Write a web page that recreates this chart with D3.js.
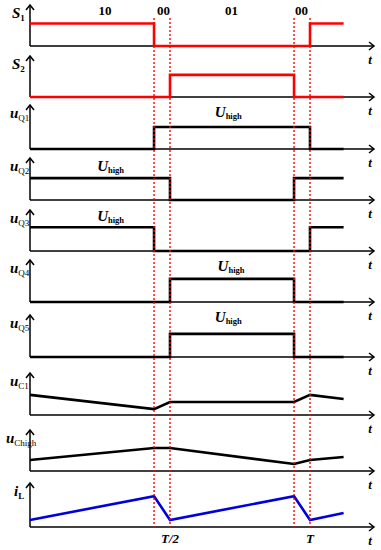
<!DOCTYPE html>
<html>
<head>
<meta charset="utf-8">
<script src="https://cdn.jsdelivr.net/npm/d3@7"></script>
<style>
  body { margin: 0; background: #fff; }
  svg { display: block; }
</style>
</head>
<body>
<svg id="svg" width="381" height="550"></svg>
<script>
// time points (fraction of period T)
const times = [0, 0.443, 0.5, 0.943, 1.0, 1.12];
// switching states above the plot
const stateLabels = ["10", "00", "01", "00"];
const stateTimes = [0.268, 0.477, 0.72, 0.97];

// digital waveforms, value at each time holds until the next (1 = high)
const s1 = [1, 0, 0, 0, 1, 1];
const s2 = [0, 0, 1, 0, 0, 0];
const uQ1 = [0, 1, 1, 1, 0, 0];
const uQ2 = [1, 1, 0, 1, 1, 1];
const uQ3 = [1, 0, 0, 0, 1, 1];
const uQ4 = [0, 0, 1, 0, 0, 0];
const uQ5 = [0, 0, 1, 0, 0, 0];

// analog waveforms (fraction of panel height), linear between time points
const uC1 = [0.48, 0.14, 0.31, 0.31, 0.48, 0.38];
const uChigh = [0.27, 0.56, 0.56, 0.17, 0.27, 0.34];
const iL = [0.16, 0.70, 0.16, 0.70, 0.16, 0.32];

const svg = d3.select("#svg");
const x = d3.scaleLinear().domain([0, 1]).range([30, 310]);
const xEnd = 374;
const serif = "'Liberation Serif', 'DejaVu Serif', serif";

// panel layout: baseline, arrow tip, high level for digital ones, label start
const panels = [
    { name: "S", sub: "1", bold: true, data: s1, kind: "step", color: "#ff0000", base: 46, top: 5, high: 0.55, lx: 12 },
    { name: "S", sub: "2", bold: true, data: s2, kind: "step", color: "#ff0000", base: 97, top: 56, high: 0.54, lx: 12 },
    { name: "u", sub: "Q1", data: uQ1, kind: "step", color: "#000", base: 149, top: 105, high: 0.5, uh: [0.66, 117], lx: 10 },
    { name: "u", sub: "Q2", data: uQ2, kind: "step", color: "#000", base: 200, top: 158, high: 0.52, uh: [0.24, 171], lx: 10 },
    { name: "u", sub: "Q3", data: uQ3, kind: "step", color: "#000", base: 251, top: 210, high: 0.58, uh: [0.24, 221], lx: 10 },
    { name: "u", sub: "Q4", data: uQ4, kind: "step", color: "#000", base: 302, top: 260, high: 0.55, uh: [0.67, 271], lx: 10 },
    { name: "u", sub: "Q5", data: uQ5, kind: "step", color: "#000", base: 357, top: 315, high: 0.55, uh: [0.66, 322], lx: 10 },
    { name: "u", sub: "C1", data: uC1, kind: "lin", color: "#000", base: 415, top: 373, lx: 10 },
    { name: "u", sub: "Chigh", data: uChigh, kind: "lin", color: "#000", base: 471, top: 430, lx: 6 },
    { name: "i", sub: "L", bold: true, data: iL, kind: "lin", color: "#0000dd", base: 527, top: 483, lx: 14 }
];

panels.forEach(p => {
    const y = d3.scaleLinear().domain([0, 1]).range([p.base, p.top]);
    const g = svg.append("g");

    // x axis line with arrow
    g.append("line")
        .attr("x1", x(0)).attr("x2", xEnd)
        .attr("y1", p.base).attr("y2", p.base)
        .attr("stroke", "#000").attr("stroke-width", 1.5);
    g.append("path")
        .attr("d", `M${xEnd - 5},${p.base - 4}L${xEnd},${p.base}L${xEnd - 5},${p.base + 4}`)
        .attr("fill", "none").attr("stroke", "#000").attr("stroke-width", 1.5);

    // y axis line with arrow
    g.append("line")
        .attr("x1", x(0)).attr("x2", x(0))
        .attr("y1", p.base).attr("y2", p.top)
        .attr("stroke", "#000").attr("stroke-width", 1.5);
    g.append("path")
        .attr("d", `M${x(0) - 4},${p.top + 5}L${x(0)},${p.top}L${x(0) + 4},${p.top + 5}`)
        .attr("fill", "none").attr("stroke", "#000").attr("stroke-width", 1.5);

    // waveform
    const vals = p.kind === "step" ? p.data.map(v => v * p.high) : p.data;
    const line = d3.line()
        .x((d, j) => x(times[j]))
        .y(d => y(d))
        .curve(p.kind === "step" ? d3.curveStepAfter : d3.curveLinear);
    g.append("path")
        .datum(vals)
        .attr("d", line)
        .attr("fill", "none")
        .attr("stroke", p.color)
        .attr("stroke-width", 2.6)
        .attr("stroke-linejoin", "miter");

    // name label
    const lab = g.append("text")
        .attr("x", p.lx)
        .attr("y", p.top + 13)
        .attr("font-family", serif)
        .attr("font-size", 15);
    lab.append("tspan")
        .attr("font-style", "italic")
        .attr("font-weight", "bold")
        .text(p.name);
    lab.append("tspan")
        .attr("font-size", 9)
        .attr("font-weight", p.bold ? "bold" : "normal")
        .attr("dy", 3)
        .text(p.sub);

    // t label
    g.append("text")
        .attr("x", 370)
        .attr("y", p.base + 18)
        .attr("text-anchor", "middle")
        .attr("font-family", serif)
        .attr("font-style", "italic")
        .attr("font-weight", "bold")
        .attr("font-size", 13)
        .text("t");

    // U_high label
    if (p.uh) {
        const u = g.append("text")
            .attr("x", x(p.uh[0]))
            .attr("y", p.uh[1])
            .attr("font-family", serif)
            .attr("font-weight", "bold")
            .attr("font-size", 15);
        u.append("tspan").attr("font-style", "italic").text("U");
        u.append("tspan").attr("font-size", 8.5).attr("dy", 2).text("high");
    }
});

// state labels at top
svg.selectAll("text.state")
    .data(stateLabels)
    .join("text")
    .attr("class", "state")
    .attr("x", (d, i) => x(stateTimes[i]))
    .attr("y", 15)
    .attr("text-anchor", "middle")
    .attr("font-family", serif)
    .attr("font-weight", "bold")
    .attr("font-size", 13)
    .text(d => d);

// dotted guide lines at the switching instants
svg.selectAll("line.guide")
    .data(times.slice(1, 5))
    .join("line")
    .attr("class", "guide")
    .attr("x1", d => x(d)).attr("x2", d => x(d))
    .attr("y1", 18).attr("y2", 530)
    .attr("stroke", "#ff0000")
    .attr("stroke-width", 1.4)
    .attr("stroke-dasharray", "2,2");

// T/2 and T
const bottom = [{ t: 0.5, s: "T/2" }, { t: 1.0, s: "T" }];
svg.selectAll("text.period")
    .data(bottom)
    .join("text")
    .attr("class", "period")
    .attr("x", d => x(d.t))
    .attr("y", 543)
    .attr("text-anchor", "middle")
    .attr("font-family", serif)
    .attr("font-style", "italic")
    .attr("font-weight", "bold")
    .attr("font-size", 13)
    .text(d => d.s);
</script>
</body>
</html>
